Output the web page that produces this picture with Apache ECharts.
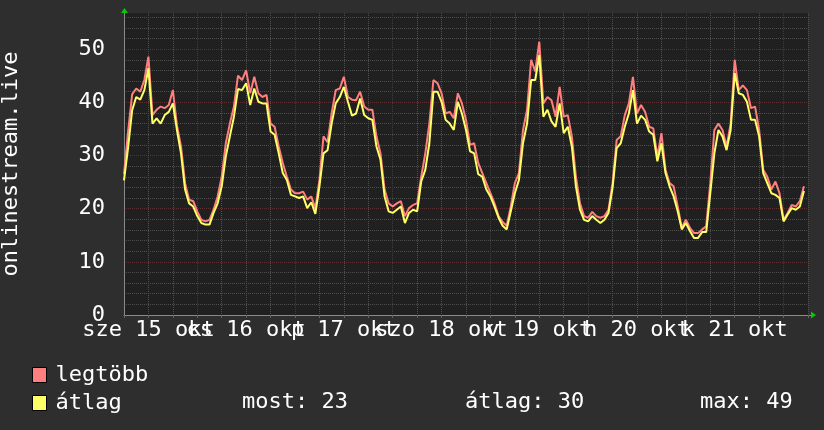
<!DOCTYPE html>
<html><head><meta charset="utf-8">
<script src="https://cdn.jsdelivr.net/npm/echarts@6/dist/echarts.min.js"></script>
<style>html,body{margin:0;padding:0;background:#2e2e2e}#c{width:824px;height:430px}</style>
</head><body><div id="c"></div>
<script>
// hours since 15 Oct 00:00; first sample at 06:00, one sample per hour
const startHour = 6;
const axisMinHour = 6;
const axisMaxHour = 174;
const dayLabels = ['sze 15 okt', 'cs 16 okt', 'p 17 okt', 'szo 18 okt', 'v 19 okt', 'h 20 okt', 'k 21 okt'];
const seriesNames = ['legtöbb', 'átlag'];
const yTitle = 'onlinestream.live';

const maxValues = [
  26.5, 34.5, 41.5, 42.6, 42.0, 44.2, 48.6, 37.6, 38.6, 39.2, 38.9, 39.5, 42.3, 35.7, 31.7, 24.8, 21.7, 21.4,
  19.5, 17.9, 17.6, 17.9, 19.8, 22.3, 26.0, 32.3, 36.0, 39.2, 45.0, 44.2, 46.0, 41.7, 44.8, 41.7, 41.0, 41.4,
  36.0, 35.4, 31.7, 28.6, 26.0, 23.6, 22.9, 22.9, 23.2, 21.7, 22.3, 20.0, 25.4, 33.6, 32.5, 37.9, 42.3, 42.6,
  44.8, 41.0, 40.5, 40.4, 42.0, 39.2, 38.6, 38.6, 33.6, 30.4, 23.6, 21.0, 20.4, 21.0, 21.4, 18.6, 20.1, 20.7,
  21.0, 26.0, 30.4, 36.0, 44.2, 43.6, 41.7, 37.9, 38.2, 37.0, 41.7, 39.8, 36.7, 32.0, 32.3, 28.6, 26.7, 24.8,
  22.9, 21.0, 18.6, 17.5, 16.8, 20.4, 24.8, 26.7, 34.8, 38.6, 48.0, 45.8, 51.4, 39.8, 41.0, 40.4, 37.3, 42.9,
  37.3, 37.6, 33.6, 26.0, 21.0, 18.6, 18.3, 19.4, 18.6, 18.3, 18.6, 19.8, 24.8, 32.9, 33.6, 37.6, 39.8, 44.8,
  37.9, 39.5, 38.2, 35.4, 35.1, 29.8, 34.2, 27.3, 24.8, 24.2, 20.4, 16.4, 17.9, 16.4, 15.4, 15.4, 16.1, 16.7,
  24.8, 34.8, 36.0, 34.8, 31.7, 36.0, 48.0, 42.3, 43.2, 42.3, 38.9, 39.2, 34.8, 27.3, 26.0, 23.6, 25.1, 22.9,
  17.9, 19.2, 20.7, 20.4, 21.4, 24.2
];
const avgValues = [
  25.3, 31.5, 38.5, 41.0, 40.5, 42.3, 46.4, 36.0, 37.0, 36.0, 37.6, 38.2, 39.8, 34.8, 30.4, 23.6, 21.0, 20.4,
  18.6, 17.3, 17.0, 17.0, 19.2, 21.0, 24.2, 29.8, 33.6, 37.3, 42.5, 42.3, 43.6, 39.5, 42.6, 40.1, 39.8, 39.8,
  34.5, 33.9, 30.4, 26.7, 25.4, 22.6, 22.3, 22.0, 22.3, 20.1, 21.2, 19.0, 24.2, 30.4, 31.0, 36.0, 39.8, 41.0,
  42.9, 40.1, 37.5, 37.9, 40.7, 37.6, 37.0, 36.7, 31.7, 29.2, 22.3, 19.5, 19.2, 19.8, 20.4, 17.3, 19.2, 19.8,
  19.5, 25.1, 27.3, 32.3, 42.0, 42.0, 40.1, 36.7, 36.0, 34.8, 40.1, 37.9, 34.8, 30.8, 30.4, 26.5, 26.0, 23.6,
  22.3, 20.4, 18.3, 16.8, 16.1, 19.5, 22.9, 25.4, 32.3, 36.0, 44.2, 44.2, 48.9, 37.3, 38.6, 36.4, 35.4, 39.8,
  34.2, 35.4, 31.7, 24.2, 19.8, 17.9, 17.6, 18.6, 17.9, 17.3, 17.9, 19.2, 23.9, 31.4, 32.3, 35.4, 37.9, 42.3,
  36.0, 37.5, 36.7, 34.5, 33.9, 28.9, 32.3, 26.7, 24.2, 22.3, 19.5, 16.1, 17.3, 15.8, 14.5, 14.5, 15.6, 15.6,
  22.9, 30.4, 34.8, 33.6, 31.0, 34.8, 45.5, 41.7, 41.4, 40.1, 36.7, 36.7, 33.6, 26.7, 24.8, 22.9, 22.6, 22.0,
  17.6, 18.9, 20.1, 19.8, 20.4, 23.3
];

const FONT = '"DejaVu Sans Mono", monospace';
const RED = '#ff7f7f', YEL = '#ffff66';
const GRIDGRAY = '#4e4e4e', GRIDRED = '#5c3030';
const toPairs = arr => arr.map((v, i) => [startHour + i, v]);

const most = Math.round(avgValues[avgValues.length - 1]);
const mean = Math.round(avgValues.reduce((a, b) => a + b, 0) / avgValues.length);
const peak = Math.round(Math.max.apply(null, avgValues));

const chart = echarts.init(document.getElementById('c'), null, {renderer: 'canvas'});
chart.setOption({
  animation: false,
  backgroundColor: '#2e2e2e',
  grid: {left: 124, top: 13, width: 684, height: 302, show: true, backgroundColor: '#202020', borderWidth: 0,
    containLabel: false, outerBoundsMode: 'none'},
  xAxis: {
    type: 'value', min: axisMinHour, max: axisMaxHour, interval: 6,
    axisLine: {show: true, lineStyle: {color: '#8a8a8a', width: 1}},
    axisTick: {show: true, length: 3, lineStyle: {color: '#666'}},
    axisLabel: {
      color: '#ffffff', fontSize: 22, fontFamily: FONT, margin: 4, hideOverlap: false,
      formatter: v => ((v - 12) % 24 === 0 && dayLabels[(v - 12) / 24]) ? dayLabels[(v - 12) / 24] : ''
    },
    splitLine: {show: true, lineStyle: {color: [GRIDGRAY, GRIDGRAY, GRIDGRAY, GRIDRED], type: [1, 1], width: 1}}
  },
  yAxis: {
    type: 'value', min: 0, max: 56.8, interval: 2,
    name: yTitle, nameLocation: 'middle', nameRotate: 90, nameGap: 102,
    nameTextStyle: {color: '#ffffff', fontSize: 22, fontFamily: FONT},
    axisLine: {show: true, lineStyle: {color: '#8a8a8a', width: 1}},
    axisTick: {show: false},
    axisLabel: {color: '#ffffff', fontSize: 22, fontFamily: FONT, margin: 19,
      formatter: v => (Math.abs(v % 10) < 1e-9 ? String(v) : '')},
    splitLine: {show: true, showMaxLine: false,
      lineStyle: {color: [GRIDRED, GRIDGRAY, GRIDGRAY, GRIDGRAY, GRIDGRAY], type: [1, 1], width: 1}}
  },
  legend: {
    orient: 'vertical', left: 32, top: 364, itemWidth: 14, itemHeight: 15, itemGap: 6,
    icon: 'rect', padding: 0, selectedMode: false,
    itemStyle: {borderColor: '#000', borderWidth: 1},
    textStyle: {color: '#ffffff', fontSize: 22, fontFamily: FONT, padding: [0, 0, 0, 4]},
    data: seriesNames
  },
  graphic: [
    {type: 'polygon', shape: {points: [[121, 13], [128, 13], [124.5, 8]]}, style: {fill: '#00cc00'}, z: 100},
    {type: 'polygon', shape: {points: [[811, 311.5], [811, 318.5], [816, 315]]}, style: {fill: '#00cc00'}, z: 100},
    {type: 'line', shape: {x1: 808, y1: 315.5, x2: 811, y2: 315.5}, style: {stroke: '#8a8a8a', lineWidth: 1}},
    {type: 'text', x: 242, y: 402, style: {text: 'most: ' + most, fill: '#fff', font: '22px ' + FONT, verticalAlign: 'middle'}},
    {type: 'text', x: 465, y: 402, style: {text: 'átlag: ' + mean, fill: '#fff', font: '22px ' + FONT, verticalAlign: 'middle'}},
    {type: 'text', x: 700, y: 402, style: {text: 'max: ' + peak, fill: '#fff', font: '22px ' + FONT, verticalAlign: 'middle'}}
  ],
  series: [
    {name: seriesNames[0], type: 'line', data: toPairs(maxValues), showSymbol: false,
      lineStyle: {color: RED, width: 2}, itemStyle: {color: RED}, z: 2},
    {name: seriesNames[1], type: 'line', data: toPairs(avgValues), showSymbol: false,
      lineStyle: {color: YEL, width: 2}, itemStyle: {color: YEL}, z: 3}
  ]
});
</script></body></html>
